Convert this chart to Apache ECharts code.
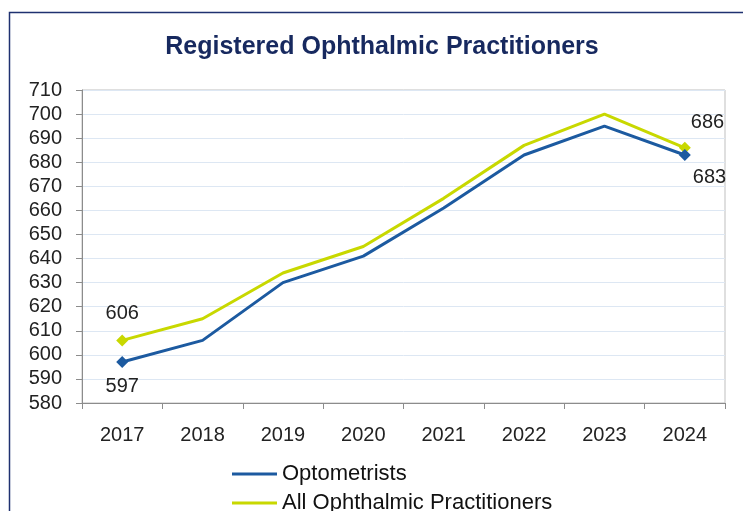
<!DOCTYPE html>
<html>
<head>
<meta charset="utf-8">
<script src="https://cdn.jsdelivr.net/npm/echarts@6/dist/echarts.min.js"></script>
<style>
html, body { margin: 0; padding: 0; background: #fff; }
#main { width: 743px; height: 511px; }
</style>
</head>
<body>
<div id="main"></div>
<script>
var years = ['2017', '2018', '2019', '2020', '2021', '2022', '2023', '2024'];
var optometrists = [597, 606, 630, 641, 661, 683, 695, 683];
var allPractitioners = [606, 615, 634, 645, 665, 687, 700, 686];

// 只在首尾点显示菱形和数值
function buildData(values, firstLabel, lastLabel) {
    var list = [];
    for (var i = 0; i < values.length; i++) {
        if (i === 0 || i === values.length - 1) {
            var lbl = i === 0 ? firstLabel : lastLabel;
            list.push({
                value: values[i],
                symbol: 'diamond',
                symbolSize: 12,
                label: {
                    show: true,
                    position: lbl.position,
                    distance: lbl.distance,
                    color: '#222',
                    fontSize: 20,
                    fontFamily: 'Liberation Sans'
                }
            });
        } else {
            list.push({ value: values[i], symbol: 'none' });
        }
    }
    return list;
}

var legendText = { color: '#111', fontSize: 22, fontFamily: 'Liberation Sans' };

var myChart = echarts.init(document.getElementById('main'));
var option = {
    animation: false,
    title: {
        text: 'Registered Ophthalmic Practitioners',
        left: 377,
        textAlign: 'center',
        top: 30,
        textStyle: {
            color: '#17295f',
            fontSize: 25,
            fontWeight: 'bold',
            fontFamily: 'Liberation Sans'
        }
    },
    graphic: [{
        type: 'rect',
        shape: { x: 9.5, y: 12.5, width: 800, height: 600 },
        style: { fill: 'none', stroke: '#1f3170', lineWidth: 1.5 },
        silent: true
    }],
    grid: {
        left: 82,
        right: 18,
        top: 90,
        bottom: 108,
        show: true,
        borderColor: '#bfbfbf',
        borderWidth: 1
    },
    legend: [{
        left: 227,
        top: 458,
        itemWidth: 45,
        itemHeight: 3,
        textStyle: legendText,
        data: [{ name: 'Optometrists', icon: 'rect' }]
    }, {
        left: 227,
        top: 487,
        itemWidth: 45,
        itemHeight: 3,
        textStyle: legendText,
        data: [{ name: 'All Ophthalmic Practitioners', icon: 'rect' }]
    }],
    xAxis: {
        type: 'category',
        data: years,
        boundaryGap: true,
        axisLine: { lineStyle: { color: '#8c8c8c' } },
        axisTick: { show: true, length: 6, lineStyle: { color: '#8c8c8c' } },
        axisLabel: { color: '#222', fontSize: 20, fontFamily: 'Liberation Sans', margin: 22 }
    },
    yAxis: {
        type: 'value',
        min: 580,
        max: 710,
        interval: 10,
        axisLine: { show: true, lineStyle: { color: '#8c8c8c' } },
        axisTick: { show: true, length: 6, lineStyle: { color: '#8c8c8c' } },
        splitLine: { lineStyle: { color: '#dde7f3' } },
        axisLabel: { color: '#222', fontSize: 20, fontFamily: 'Liberation Sans', margin: 20 }
    },
    series: [{
        name: 'Optometrists',
        type: 'line',
        color: '#1c5aa0',
        lineStyle: { width: 3, color: '#1c5aa0' },
        itemStyle: { color: '#1c5aa0' },
        z: 3,
        data: buildData(optometrists,
            { position: 'bottom', distance: 8 },
            { position: [14, 18] })
    }, {
        name: 'All Ophthalmic Practitioners',
        type: 'line',
        color: '#c8d800',
        lineStyle: { width: 3, color: '#c8d800' },
        itemStyle: { color: '#c8d800' },
        z: 2,
        data: buildData(allPractitioners,
            { position: 'top', distance: 11 },
            { position: [12, -29] })
    }]
};
myChart.setOption(option);
</script>
</body>
</html>
